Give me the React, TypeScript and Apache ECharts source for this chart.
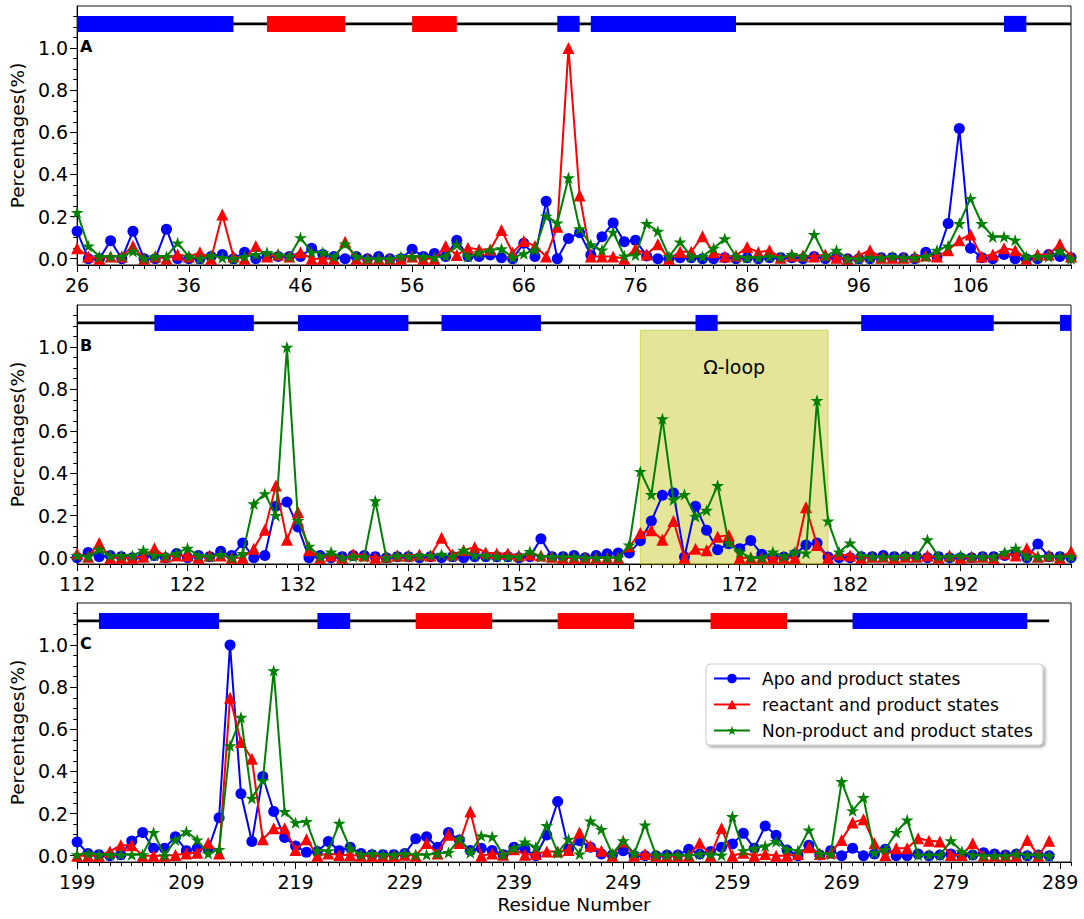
import React, { useEffect, useRef } from "react";
import * as echarts from "echarts";

// ---------------- data ----------------
const SERIES_NAMES = [
  "Apo and product states",
  "reactant and product states",
  "Non-product and product states",
];

// Panel A: residues 26..115
const startA = 26;
const apoA = [
  0.13, 0, 0, 0.085, 0, 0.13, 0, 0, 0.14, 0,
  0, 0, 0.01, 0.02, 0, 0.03, 0, 0.01, 0.01, 0.01,
  0.01, 0.05, 0.02, 0.01, 0, 0.01, 0, 0.01, 0, 0,
  0.045, 0.01, 0.025, 0.01, 0.088, 0.01, 0.01, 0.017, 0.005, 0,
  0.073, 0.01, 0.273, 0, 0.096, 0.123, 0.017, 0.104, 0.17, 0.08,
  0.088, 0.013, 0, 0, 0.005, 0.005, 0, 0, 0.005, 0,
  0.005, 0, 0.005, 0.005, 0.005, 0, 0.01, 0, 0.005, 0,
  0, 0, 0.005, 0.005, 0.005, 0, 0.03, 0.01, 0.167, 0.618,
  0.05, 0.005, 0, 0.02, 0, 0, 0, 0.02, 0.01, 0.005,
];
const reactA = [
  0.05, 0.01, 0, 0.01, 0.01, 0.06, 0, 0.01, 0, 0.02,
  0.01, 0.03, 0, 0.21, 0.01, 0, 0.06, 0.01, 0.02, 0.01,
  0.03, 0, 0, 0, 0.08, 0, 0, 0, 0, 0,
  0.01, 0, 0, 0.06, 0.017, 0.052, 0.044, 0.044, 0.136, 0.028,
  0.084, 0.06, 0.01, 0.152, 1.0, 0.3, 0.01, 0.01, 0.01, 0,
  0.047, 0.02, 0.068, 0, 0.033, 0.033, 0.107, 0.03, 0.01, 0.015,
  0.055, 0.03, 0.04, 0.005, 0.015, 0.015, 0.01, 0.02, 0.005, 0,
  0.015, 0.04, 0.005, 0.005, 0.005, 0.01, 0.015, 0.01, 0.04, 0.088,
  0.115, 0.01, 0.02, 0.05, 0.04, 0, 0.02, 0.02, 0.07, 0.01,
];
const nonA = [
  0.22, 0.06, 0.01, 0.01, 0.01, 0.035, 0, 0.01, 0.01, 0.075,
  0.01, 0, 0.015, 0.005, 0, 0.01, 0.02, 0.03, 0.02, 0.01,
  0.1, 0.03, 0.03, 0.01, 0.07, 0.01, 0, 0, 0, 0.01,
  0.01, 0.01, 0.005, 0.013, 0.066, 0.01, 0.028, 0.041, 0.047, 0.005,
  0.024, 0.041, 0.202, 0.17, 0.384, 0.142, 0.066, 0.041, 0.126, 0.013,
  0.017, 0.167, 0.13, 0.01, 0.079, 0.01, 0.01, 0.05, 0.095, 0.01,
  0.005, 0.005, 0.01, 0.005, 0.02, 0.01, 0.115, 0.01, 0.04, 0,
  0, 0.005, 0.005, 0.01, 0.005, 0.005, 0.01, 0.04, 0.06, 0.167,
  0.286, 0.167, 0.104, 0.104, 0.088, 0.01, 0.01, 0.01, 0.035, 0,
];

// Panel B: residues 112..202
const startB = 112;
const apoB = [
  0, 0.025, 0.005, 0.01, 0.005, 0, 0.005, 0.01, 0, 0.02,
  0, 0.01, 0.005, 0.03, 0.01, 0.07, 0, 0.01, 0.244, 0.264,
  0.146, 0, 0.01, 0, 0.005, 0.01, 0.01, 0.005, 0, 0.005,
  0.005, 0, 0.005, 0, 0.005, 0, 0.005, 0.005, 0.005, 0.005,
  0, 0.005, 0.09, 0.005, 0.005, 0.01, 0, 0.01, 0.019, 0.022,
  0.022, 0.08, 0.174, 0.296, 0.307, 0.003, 0.244, 0.13, 0.038, 0.066,
  0.043, 0.082, 0.016, 0, 0.003, 0.016, 0.06, 0.07, 0.003, 0,
  0, 0.005, 0.005, 0.01, 0.005, 0.005, 0.005, 0, 0.005, 0,
  0, 0, 0.005, 0.005, 0.01, 0.02, 0, 0.065, 0.005, 0.005,
  0,
];
const reactB = [
  0.02, 0.005, 0.07, 0, 0, 0, 0.005, 0.045, 0.005, 0.01,
  0.01, 0, 0.01, 0.01, 0, 0, 0.043, 0.133, 0.343, 0.085,
  0.217, 0.035, 0, 0.01, 0, 0.016, 0.01, 0, 0.005, 0.01,
  0.01, 0.015, 0.01, 0.095, 0.015, 0.035, 0.05, 0.025, 0.02, 0.02,
  0.01, 0.015, 0.01, 0.005, 0, 0, 0, 0, 0, 0,
  0.054, 0.117, 0.13, 0.085, 0.174, 0, 0.043, 0.035, 0.1, 0.106,
  0, 0, 0, 0, 0, 0, 0.24, 0.06, 0, 0.016,
  0.01, 0, 0.005, 0.005, 0, 0.005, 0.005, 0.01, 0, 0.01,
  0, 0.005, 0.005, 0, 0.02, 0.01, 0.045, 0.005, 0.01, 0,
  0.03,
];
const nonB = [
  0.01, 0.005, 0.04, 0.01, 0.01, 0.01, 0.035, 0.01, 0.01, 0.02,
  0.045, 0.01, 0.005, 0.015, 0, 0.02, 0.256, 0.304, 0.2, 1.0,
  0.177, 0.054, 0.005, 0.027, 0, 0.005, 0.005, 0.27, 0, 0.01,
  0.005, 0.01, 0.01, 0.016, 0.005, 0.035, 0.01, 0.01, 0.005, 0.005,
  0.005, 0.03, 0.005, 0.005, 0.005, 0.005, 0, 0, 0, 0,
  0.06, 0.41, 0.3, 0.66, 0.275, 0.3, 0.196, 0.225, 0.343, 0.07,
  0.027, 0, 0, 0.027, 0.006, 0.027, 0.022, 0.747, 0.174, 0.027,
  0.07, 0.01, 0.005, 0.005, 0.005, 0.01, 0.005, 0.085, 0.005, 0.005,
  0.01, 0.005, 0.005, 0.005, 0.025, 0.045, 0.005, 0.005, 0.005, 0.005,
  0.005,
];

// Panel C: residues 199..288
const startC = 199;
const apoC = [
  0.065, 0.01, 0.005, 0, 0.005, 0.07, 0.11, 0.035, 0.035, 0.09,
  0.024, 0.035, 0.03, 0.18, 1.0, 0.294, 0.067, 0.376, 0.21, 0.086,
  0.046, 0.016, 0.02, 0.067, 0.024, 0.04, 0.01, 0.005, 0.005, 0.005,
  0.01, 0.08, 0.09, 0.04, 0.11, 0.075, 0.025, 0.035, 0.025, 0.005,
  0.04, 0.03, 0, 0.098, 0.257, 0.03, 0.071, 0.04, 0.008, 0.003,
  0.024, 0, 0, 0, 0.003, 0.003, 0.03, 0.008, 0.02, 0.04,
  0.056, 0.106, 0.035, 0.141, 0.097, 0.027, 0, 0.05, 0.003, 0.024,
  0, 0.035, 0, 0.008, 0.03, 0, 0, 0.008, 0, 0.003,
  0.008, 0.003, 0.003, 0.014, 0.008, 0.003, 0.008, 0, 0.003, 0,
];
const reactC = [
  0, 0, 0, 0.02, 0.05, 0.05, 0, 0, 0, 0.003,
  0.01, 0.014, 0.06, 0.01, 0.75, 0.54, 0.46, 0.078, 0.13, 0.13,
  0.027, 0.078, 0, 0.01, 0.003, 0.003, 0, 0, 0, 0,
  0.005, 0, 0.06, 0.01, 0.1, 0.06, 0.21, 0, 0.01, 0.005,
  0.03, 0.005, 0.008, 0.02, 0.02, 0.027, 0.11, 0.046, 0.024, 0,
  0.067, 0, 0.008, 0, 0, 0, 0, 0.062, 0, 0.13,
  0, 0.014, 0, 0.008, 0, 0, 0.008, 0.04, 0.008, 0.014,
  0.075, 0.157, 0.173, 0.059, 0.003, 0.035, 0.035, 0.083, 0.071, 0.067,
  0.003, 0.003, 0.059, 0, 0, 0, 0, 0.075, 0, 0.071,
];
const nonC = [
  0.005, 0.01, 0.005, 0.005, 0.005, 0.005, 0.005, 0.11, 0, 0.075,
  0.114, 0.075, 0.01, 0.03, 0.522, 0.657, 0.273, 0.357, 0.879, 0.21,
  0.157, 0.162, 0.024, 0.024, 0.154, 0.035, 0.005, 0.01, 0.005, 0.005,
  0.01, 0.005, 0.005, 0.01, 0.015, 0.08, 0.015, 0.095, 0.09, 0.005,
  0.035, 0.065, 0.04, 0.143, 0.014, 0.078, 0.008, 0.165, 0.125, 0.008,
  0.071, 0.01, 0.146, 0.003, 0.003, 0.003, 0, 0.008, 0.008, 0.003,
  0.186, 0.024, 0.035, 0.046, 0.067, 0.03, 0.024, 0.122, 0.01, 0.008,
  0.352, 0.214, 0.276, 0.014, 0.03, 0.11, 0.17, 0.003, 0.003, 0.003,
  0.071, 0.02, 0.003, 0, 0, 0, 0.008, 0.003, 0.003, 0,
];

// x-axis ranges and tick labels
const xRangeA = [26, 115];
const xRangeB = [112, 202];
const xRangeC = [199, 290];
const xTicksA = [26, 36, 46, 56, 66, 76, 86, 96, 106];
const xTicksB = [112, 122, 132, 142, 152, 162, 172, 182, 192];
const xTicksC = [199, 209, 219, 229, 239, 249, 259, 269, 279, 289];
const yTicks = [0, 0.2, 0.4, 0.6, 0.8, 1.0];
const yMinorTicks = [
  0.05, 0.1, 0.15, 0.25, 0.3, 0.35, 0.45, 0.5, 0.55, 0.65, 0.7, 0.75, 0.85,
  0.9, 0.95, 1.05, 1.1, 1.15,
];

// secondary structure: [start, end, type] (0 = helix/blue, 1 = strand/red)
const ssA = [[26, 40, 0], [43, 50, 1], [56, 60, 1], [69, 71, 0], [72, 85, 0], [109, 111, 0]];
const ssB = [[119, 128, 0], [132, 142, 0], [145, 154, 0], [168, 170, 0], [183, 195, 0], [201, 202, 0]];
const ssC = [[201, 212, 0], [221, 224, 0], [230, 237, 1], [243, 250, 1], [257, 264, 1], [270, 286, 0]];
const ssLineA = [26, 115];
const ssLineB = [112, 202];
const ssLineC = [199, 288];

// Omega loop region in panel B
const omegaLoop = [163, 180];
const omegaLabel = "Ω-loop";

// ---------------- layout / style ----------------
const W = 1084;
const H = 919;
const GRID_LEFT = 67;
const GRID_RIGHT = 13;
const GRID_TOPS = [6, 305, 603];
const GRID_H = 259;
const Y_MIN = -0.03;
const Y_MAX = 1.2;
const SS_Y = 1.115;
const SS_HALF = 0.038;
const OMEGA_TOP = 1.08;
const COLORS = ["#0000ff", "#ff0000", "#008000"];
const SS_COLORS = ["#0000ff", "#ff0000"];
const FONT = "DejaVu Sans";
const TICK_FS = 19;
const TITLE_FS = 18.5;
const STAR =
  "path://M50,0L61.2,34.5L97.6,34.5L68.2,55.9L79.4,90.5L50,69.1L20.6,90.5L31.8,55.9L2.4,34.5L38.8,34.5Z";
const SYMBOLS = ["circle", "triangle", STAR];
const SYMBOL_SIZES = [11, 12, 13];

function buildOption() {
  const panels = [
    { start: startA, vals: [apoA, reactA, nonA], xr: xRangeA, xt: xTicksA, ss: ssA, sl: ssLineA, letter: "A" },
    { start: startB, vals: [apoB, reactB, nonB], xr: xRangeB, xt: xTicksB, ss: ssB, sl: ssLineB, letter: "B" },
    { start: startC, vals: [apoC, reactC, nonC], xr: xRangeC, xt: xTicksC, ss: ssC, sl: ssLineC, letter: "C" },
  ];

  const grid: any[] = [];
  const xAxis: any[] = [];
  const yAxis: any[] = [];
  const series: any[] = [];
  const graphic: any[] = [];

  panels.forEach((p, g) => {
    grid.push({
      left: GRID_LEFT,
      right: GRID_RIGHT,
      top: GRID_TOPS[g],
      height: GRID_H,
      show: true,
      borderColor: "#111",
      borderWidth: 1,
      backgroundColor: "transparent",
    });
    xAxis.push({
      type: "value",
      gridIndex: g,
      min: p.xr[0],
      max: p.xr[1],
      interval: 10,
      position: "bottom",
      axisLine: { show: true, onZero: false, lineStyle: { color: "#000", width: 1 } },
      axisTick: { show: true, length: 7, customValues: p.xt, lineStyle: { color: "#000", width: 1 } },
      axisLabel: { show: true, customValues: p.xt, fontSize: TICK_FS, color: "#000", margin: 10, fontFamily: FONT },
      splitLine: { show: false },
      name: g === 2 ? "Residue Number" : "",
      nameLocation: "middle",
      nameGap: 33,
      nameTextStyle: { fontSize: TITLE_FS, color: "#000", fontFamily: FONT },
    });
    xAxis.push({
      type: "value",
      gridIndex: g,
      min: p.xr[0],
      max: p.xr[1],
      interval: 1,
      position: "bottom",
      axisLine: { show: false, onZero: false },
      axisTick: { show: true, length: 4, lineStyle: { color: "#000", width: 1 } },
      axisLabel: { show: false },
      splitLine: { show: false },
    });
    yAxis.push({
      type: "value",
      gridIndex: g,
      min: Y_MIN,
      max: Y_MAX,
      position: "left",
      axisLine: { show: true, onZero: false, lineStyle: { color: "#000", width: 1 } },
      axisTick: { show: true, length: 7, customValues: yTicks, lineStyle: { color: "#000", width: 1 } },
      axisLabel: {
        show: true,
        customValues: yTicks,
        fontSize: TICK_FS,
        color: "#000",
        margin: 9,
        fontFamily: FONT,
        formatter: (v: number) => v.toFixed(1),
      },
      splitLine: { show: false },
      name: "Percentages(%)",
      nameLocation: "middle",
      nameGap: 42,
      nameTextStyle: { fontSize: TITLE_FS, color: "#000", fontFamily: FONT },
    });
    yAxis.push({
      type: "value",
      gridIndex: g,
      min: Y_MIN,
      max: Y_MAX,
      position: "left",
      axisLine: { show: false, onZero: false },
      axisTick: { show: true, length: 4, customValues: yMinorTicks, lineStyle: { color: "#000", width: 1 } },
      axisLabel: { show: false },
      splitLine: { show: false },
    });

    const xi = 2 * g;
    const yi = 2 * g;

    const ssLine: any = {
      type: "line",
      name: "ss-line-" + g,
      xAxisIndex: xi,
      yAxisIndex: yi,
      data: [[p.sl[0], SS_Y], [p.sl[1], SS_Y]],
      symbol: "none",
      silent: true,
      lineStyle: { color: "#000", width: 2.6 },
      z: 2,
    };
    if (g === 1) {
      ssLine.markArea = {
        silent: true,
        itemStyle: { color: "rgba(191,191,0,0.4)", borderColor: "rgba(191,191,0,0.55)", borderWidth: 1 },
        label: {
          show: true,
          position: "insideTop",
          distance: 28,
          formatter: "{b}",
          fontSize: 19,
          color: "#000",
          fontFamily: FONT,
        },
        data: [[{ name: omegaLabel, coord: [omegaLoop[0], Y_MIN] }, { coord: [omegaLoop[1], OMEGA_TOP] }]],
      };
    }
    series.push(ssLine);

    series.push({
      type: "custom",
      name: "ss-" + g,
      xAxisIndex: xi,
      yAxisIndex: yi,
      silent: true,
      z: 3,
      encode: { x: [0, 1], y: 2 },
      data: p.ss,
      renderItem: (params: any, api: any) => {
        const s = api.value(0);
        const e = api.value(1);
        const t = api.value(2);
        const p1 = api.coord([s, SS_Y + SS_HALF]);
        const p2 = api.coord([e, SS_Y - SS_HALF]);
        return {
          type: "rect",
          shape: { x: p1[0], y: p1[1], width: p2[0] - p1[0], height: p2[1] - p1[1] },
          style: { fill: SS_COLORS[t] },
        };
      },
    });

    p.vals.forEach((vals, k) => {
      series.push({
        type: "line",
        name: SERIES_NAMES[k],
        xAxisIndex: xi,
        yAxisIndex: yi,
        data: vals.map((v, i) => [p.start + i, v]),
        symbol: SYMBOLS[k],
        symbolSize: SYMBOL_SIZES[k],
        symbolKeepAspect: true,
        showSymbol: true,
        showAllSymbol: true,
        color: COLORS[k],
        itemStyle: { color: COLORS[k] },
        lineStyle: { color: COLORS[k], width: 2 },
        z: 4 + k,
      });
    });

    graphic.push({
      type: "text",
      left: 80,
      top: GRID_TOPS[g] + 32,
      style: { text: p.letter, font: "bold 16px " + FONT, fill: "#000" },
    });
  });

  return {
    animation: false,
    textStyle: { fontFamily: FONT },
    grid,
    xAxis,
    yAxis,
    series,
    graphic,
    legend: {
      data: SERIES_NAMES,
      orient: "vertical",
      left: 706,
      top: 664,
      itemWidth: 36,
      itemHeight: 12,
      itemGap: 9,
      padding: [6, 10, 6, 7],
      backgroundColor: "#fff",
      borderColor: "#cccccc",
      borderWidth: 1,
      borderRadius: 4,
      shadowBlur: 3,
      shadowColor: "rgba(0,0,0,0.35)",
      shadowOffsetX: 2,
      shadowOffsetY: 2,
      selectedMode: false,
      textStyle: { fontSize: 17, color: "#000", fontFamily: FONT, padding: [0, 0, 0, 7] },
    },
  };
}

export default function App() {
  const ref = useRef<HTMLDivElement>(null);
  useEffect(() => {
    document.body.style.margin = "0";
    const chart = echarts.init(ref.current as HTMLDivElement, undefined, { renderer: "svg" });
    chart.setOption(buildOption() as any);
    return () => {
      chart.dispose();
    };
  }, []);
  return <div ref={ref} style={{ width: W, height: H }} />;
}
